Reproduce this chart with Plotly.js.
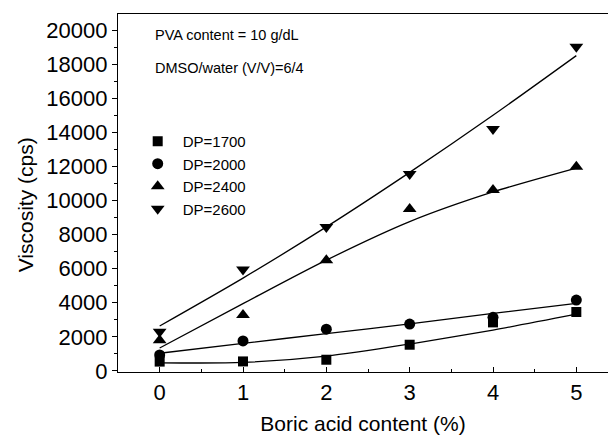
<!DOCTYPE html>
<html><head><meta charset="utf-8">
<script src="https://cdn.plot.ly/plotly-3.0.1.min.js"></script>
<style>html,body{margin:0;padding:0;background:#fff}#chart{width:608px;height:438px}</style>
</head><body><div id="chart"></div>
<script>
var boricAcid = [0, 1, 2, 3, 4, 5];
var seriesNames = ['DP=1700', 'DP=2000', 'DP=2400', 'DP=2600'];
var dp1700 = [550, 560, 660, 1540, 2850, 3460];
var dp2000 = [940, 1760, 2450, 2750, 3150, 4160];
var dp2400 = [1800, 3280, 6500, 9500, 10620, 11980];
var dp2600 = [2300, 5950, 8450, 11550, 14200, 19020];
var fit1700 = [480, 500, 870, 1580, 2400, 3330];
var fit2000 = [1040, 1620, 2190, 2760, 3380, 3970];
var fit2400 = [1350, 3950, 6500, 8760, 10500, 11900];
var fit2600 = [2640, 5450, 8450, 11650, 15000, 18500];
var yTicks = [0, 2000, 4000, 6000, 8000, 10000, 12000, 14000, 16000, 18000, 20000];
var xTicks = [0, 1, 2, 3, 4, 5];
var noteLines = ['PVA content = 10 g/dL', 'DMSO/water (V/V)=6/4'];
var xTitle = 'Boric acid content (%)';
var yTitle = 'Viscosity (cps)';

var FONT = 'Arial, "Liberation Sans", sans-serif';
var symbols = ['square', 'circle', 'triangle-up', 'triangle-down'];
var sizes = [10, 11, 12, 12];
var data = [dp1700, dp2000, dp2400, dp2600];
var fits = [fit1700, fit2000, fit2400, fit2600];
var traces = [];
fits.forEach(function (f) {
  traces.push({x: boricAcid, y: f, mode: 'lines', line: {color: '#000', width: 1.3, shape: 'spline', smoothing: 0.8},
    showlegend: false, hoverinfo: 'skip'});
});
data.forEach(function (d, i) {
  traces.push({x: boricAcid, y: d, mode: 'markers', name: seriesNames[i],
    marker: {symbol: symbols[i], size: sizes[i], color: '#000'}});
});

var notes = noteLines.map(function (t, i) {
  return {text: t, xref: 'paper', yref: 'paper', x: 0.072, y: 0.94 - i * 0.092,
    xanchor: 'left', yanchor: 'middle', showarrow: false,
    font: {family: FONT, size: 14.5, color: '#000'}};
});
notes.push({text: yTitle, xref: 'paper', yref: 'paper', x: -0.188, y: 0.468, textangle: -90,
  xanchor: 'center', yanchor: 'middle', showarrow: false,
  font: {family: FONT, size: 21, color: '#000'}});

var layout = {
  width: 608, height: 438,
  margin: {l: 118, r: 0, t: 14, b: 66},
  paper_bgcolor: '#fff', plot_bgcolor: '#fff',
  font: {family: FONT, color: '#000'},
  showlegend: true,
  legend: {x: 0.03, y: 0.69, xanchor: 'left', yanchor: 'top', bgcolor: 'rgba(0,0,0,0)',
    font: {family: FONT, size: 15, color: '#000'}, itemwidth: 40, tracegroupgap: 0},
  xaxis: {
    range: [-0.5, 5.38], tickvals: xTicks, ticktext: xTicks.map(String),
    ticks: 'inside', ticklen: 5, tickwidth: 1, tickcolor: '#000',
    minor: {dtick: 0.5, tick0: 0, ticks: 'inside', ticklen: 3, tickcolor: '#000'},
    showline: true, linecolor: '#000', linewidth: 1.2, mirror: true,
    showgrid: false, zeroline: false,
    tickfont: {family: FONT, size: 22, color: '#000'},
    title: {text: xTitle, font: {family: FONT, size: 21, color: '#000'}, standoff: 12}
  },
  yaxis: {
    range: [-60, 20940], tickvals: yTicks, ticktext: yTicks.map(String),
    ticks: 'outside', ticklen: 5, tickwidth: 1, tickcolor: '#000',
    minor: {dtick: 1000, tick0: 0, ticks: 'outside', ticklen: 3, tickcolor: '#000'},
    showline: true, linecolor: '#000', linewidth: 1.2, mirror: false,
    showgrid: false, zeroline: false,
    tickfont: {family: FONT, size: 22, color: '#000'}
  },
  annotations: notes
};
Plotly.newPlot('chart', traces, layout, {displayModeBar: false, staticPlot: true});
</script></body></html>
